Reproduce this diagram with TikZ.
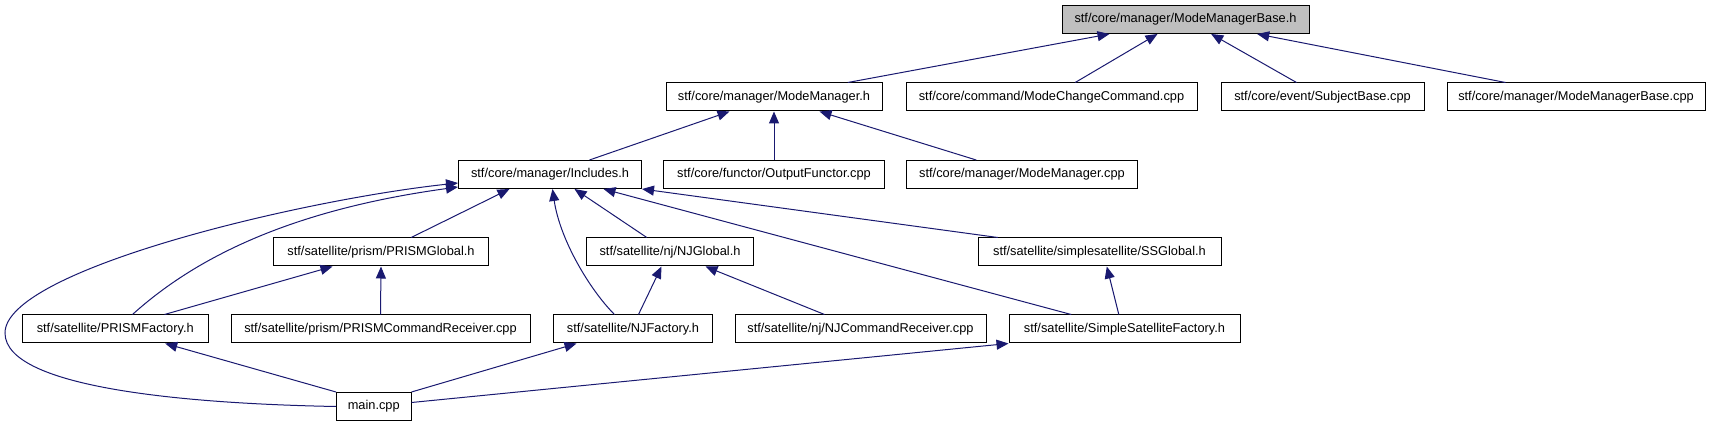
\documentclass[tikz,border=0pt]{standalone}
\usepackage{fontspec}
\setmainfont{Liberation Sans}
\usetikzlibrary{arrows.meta}
\definecolor{edgeblue}{RGB}{25,25,112}
\definecolor{rootgray}{RGB}{191,191,191}
\tikzset{
  filebox/.style={draw=black, line width=1pt, fill=white, minimum height=28pt, inner sep=0pt, anchor=center,
    font=\fontsize{12.8}{15}\selectfont},
  rootbox/.style={filebox, fill=rootgray},
  dep/.style={draw=edgeblue, line width=1pt, -{Triangle[length=12pt,width=10pt]}}
}
\begin{document}
\begin{tikzpicture}[x=1pt,y=-1pt]
\useasboundingbox (0,0) rectangle (1711,427);
% row 1
\node[rootbox, minimum width=247pt] (mmb) at (1185.5,19.5) {stf/core/manager/ModeManagerBase.h};
% row 2
\node[filebox, minimum width=216pt] (mm) at (774,97) {stf/core/manager/ModeManager.h};
\node[filebox, minimum width=291pt] (mcc) at (1051.5,97) {stf/core/command/ModeChangeCommand.cpp};
\node[filebox, minimum width=203pt] (sb) at (1322.5,97) {stf/core/event/SubjectBase.cpp};
\node[filebox, minimum width=258pt] (mmbcpp) at (1576,97) {stf/core/manager/ModeManagerBase.cpp};
% row 3
\node[filebox, minimum width=183pt] (inc) at (550,174.5) {stf/core/manager/Includes.h};
\node[filebox, minimum width=221pt] (of) at (774,174.5) {stf/core/functor/OutputFunctor.cpp};
\node[filebox, minimum width=231pt] (mmcpp) at (1022,174.5) {stf/core/manager/ModeManager.cpp};
% row 4
\node[filebox, minimum width=215pt] (pg) at (381,252) {stf/satellite/prism/PRISMGlobal.h};
\node[filebox, minimum width=167pt] (njg) at (670,252) {stf/satellite/nj/NJGlobal.h};
\node[filebox, minimum width=243pt] (ssg) at (1099.5,252) {stf/satellite/simplesatellite/SSGlobal.h};
% row 5
\node[filebox, minimum width=185.5pt] (pf) at (115.25,329) {stf/satellite/PRISMFactory.h};
\node[filebox, minimum width=299pt] (pcr) at (380.5,329) {stf/satellite/prism/PRISMCommandReceiver.cpp};
\node[filebox, minimum width=159pt] (njf) at (633,329) {stf/satellite/NJFactory.h};
\node[filebox, minimum width=251pt] (njcr) at (860.5,329) {stf/satellite/nj/NJCommandReceiver.cpp};
\node[filebox, minimum width=231pt] (ssf) at (1124.5,329) {stf/satellite/SimpleSatelliteFactory.h};
% row 6
\node[filebox, minimum width=74.5pt] (main) at (373.75,406.5) {main.cpp};

% edges to ModeManagerBase.h
\draw[dep] ([xshift=182.3pt]mm.north west) -- ([xshift=48pt]mmb.south west);
\draw[dep] ([xshift=169.7pt]mcc.north west) -- ([xshift=96pt]mmb.south west);
\draw[dep] ([xshift=76pt]sb.north west) -- ([xshift=149.7pt]mmb.south west);
\draw[dep] ([xshift=59pt]mmbcpp.north west) -- ([xshift=195.7pt]mmb.south west);
% edges to ModeManager.h
\draw[dep] ([xshift=131.5pt]inc.north west) -- ([xshift=64pt]mm.south west);
\draw[dep] (of.north) -- (mm.south);
\draw[dep] ([xshift=70.2pt]mmcpp.north west) -- ([xshift=154pt]mm.south west);
% edges to Includes.h
\draw[dep] ([xshift=138.2pt]pg.north west) -- ([xshift=51.5pt]inc.south west);
\draw[dep] ([xshift=61.5pt]njf.north west) .. controls (590,290) and (560,240) .. ([xshift=94.5pt]inc.south west);
\draw[dep] ([xshift=60.8pt]njg.north west) -- ([xshift=116.5pt]inc.south west);
\draw[dep] ([xshift=62.7pt]ssf.north west) -- ([xshift=145.5pt]inc.south west);
\draw[dep] ([xshift=20.3pt]ssg.north west) -- (inc.south east);
\draw[dep] ([xshift=110.5pt]pf.north west) .. controls (195,258) and (290,210) .. ([yshift=-12.5pt]inc.west);
\coordinate (bend) at (5,333);
\draw[dep] (main.west) .. controls (200,404) and (5,390) .. (bend)
  .. controls (5,270) and (300,200) .. ([yshift=-8.5pt]inc.west);
% second-level edges
\draw[dep] ([xshift=142.5pt]pf.north west) -- ([xshift=59.5pt]pg.south west);
\draw[dep] (pcr.north) -- (pg.south);
\draw[dep] ([xshift=85.5pt]njf.north west) -- ([xshift=75.5pt]njg.south west);
\draw[dep] ([xshift=90pt]njcr.north west) -- ([xshift=119.5pt]njg.south west);
\draw[dep] ([xshift=110.3pt]ssf.north west) -- ([xshift=129.3pt]ssg.south west);
% edges from main.cpp
\draw[dep] (main.north west) -- ([xshift=143.2pt]pf.south west);
\draw[dep] (main.north east) -- ([xshift=23.5pt]njf.south west);
\draw[dep] ([yshift=4pt]main.east) -- (ssf.south west);
\end{tikzpicture}
\end{document}
